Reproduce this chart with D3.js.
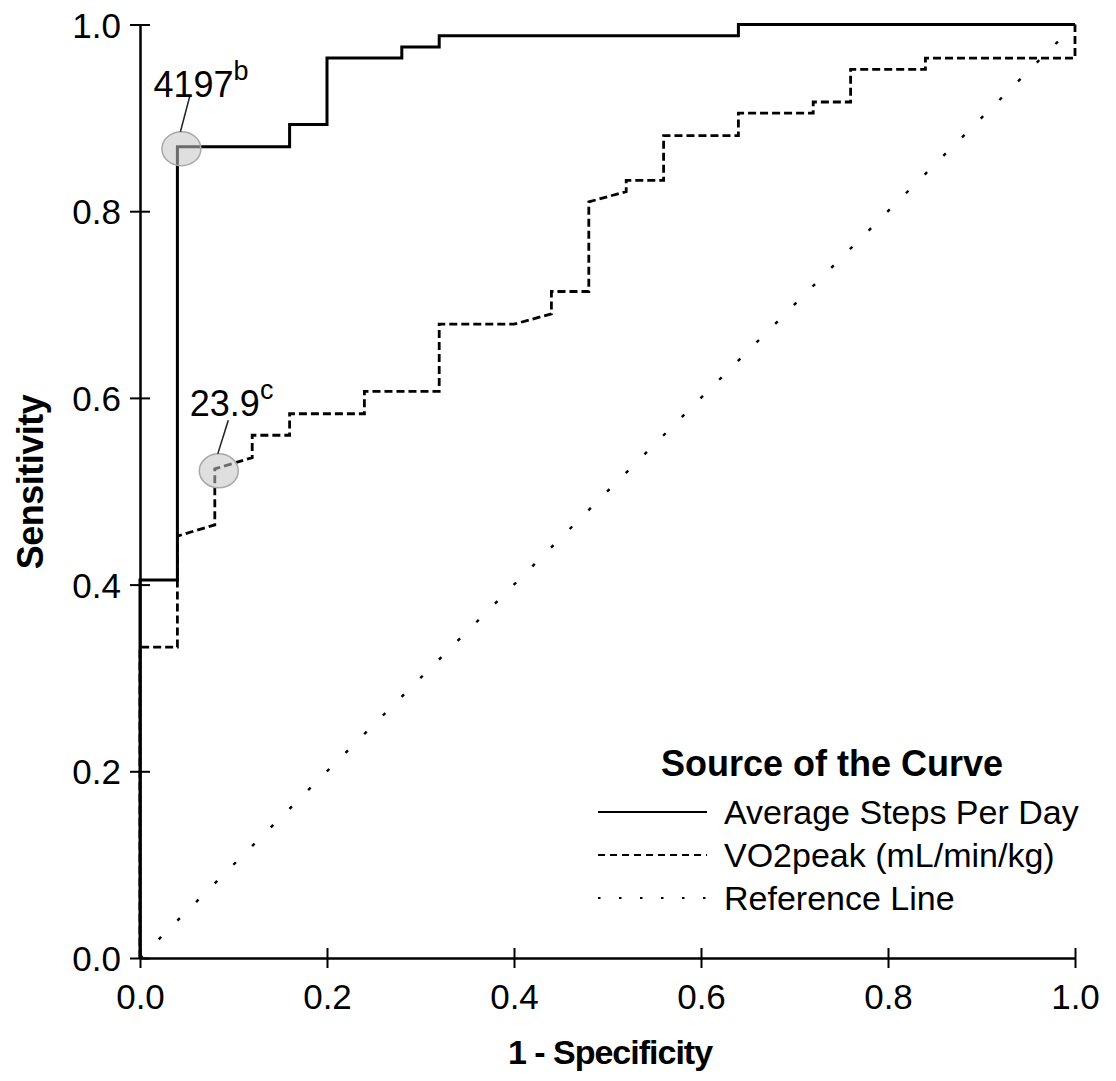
<!DOCTYPE html>
<html>
<head>
<meta charset="utf-8">
<script src="https://cdn.jsdelivr.net/npm/d3@7"></script>
<style>
  body { margin: 0; background: #fff; }
  text { font-family: "Liberation Sans", Arial, sans-serif; fill: #000; }
</style>
</head>
<body>
<svg id="canvas" width="1116" height="1081"></svg>
<script>
// ROC points (x = 1 - specificity, y = sensitivity)
var stepsFpr = [0, 0, 0.04, 0.04, 0.16, 0.16, 0.20, 0.20, 0.28, 0.28, 0.32, 0.32, 0.64, 0.64, 1.0]
var stepsTpr = [0, 0.405, 0.405, 0.869, 0.869, 0.893, 0.893, 0.964, 0.964, 0.976, 0.976, 0.988, 0.988, 1.0, 1.0]

var vo2Fpr = [0, 0, 0.04, 0.04, 0.08, 0.08, 0.12, 0.12, 0.16, 0.16, 0.24, 0.24, 0.32, 0.32, 0.40, 0.44, 0.44,
              0.48, 0.48, 0.52, 0.52, 0.56, 0.56, 0.64, 0.64, 0.72, 0.72, 0.76, 0.76, 0.84, 0.84, 1.0, 1.0]
var vo2Tpr = [0, 0.333, 0.333, 0.452, 0.464, 0.524, 0.536, 0.560, 0.560, 0.583, 0.583, 0.607, 0.607, 0.679, 0.679, 0.690, 0.714,
              0.714, 0.810, 0.821, 0.833, 0.833, 0.881, 0.881, 0.905, 0.905, 0.917, 0.917, 0.952, 0.952, 0.964, 0.964, 1.0]

var refLine = [0, 1]

var tickValues = [0, 0.2, 0.4, 0.6, 0.8, 1.0]

// cut-off labels
var cutoffs = [
    {fpr: 0.04, tpr: 0.869, label: '4197', sup: 'b'},
    {fpr: 0.08, tpr: 0.524, label: '23.9', sup: 'c'}
]

var legendNames = ['Average Steps Per Day', 'VO2peak (mL/min/kg)', 'Reference Line']

window.onload = function()
{
    MakeChart();
}

function MakeChart(){
    var svg = d3.select('#canvas');
    var left = 140, right = 1075, top = 24.5, bottom = 958;

    var x = d3.scaleLinear().domain([0, 1]).range([left, right]);
    var y = d3.scaleLinear().domain([0, 1]).range([bottom, top]);

    // axes
    var xAxis = svg.append('g')
        .attr('transform', 'translate(0,' + bottom + ')')
        .call(d3.axisBottom(x).tickValues(tickValues).tickFormat(d3.format('.1f')).tickSizeInner(10).tickSizeOuter(0).tickPadding(16));
    var yAxis = svg.append('g')
        .attr('transform', 'translate(' + left + ',0)')
        .call(d3.axisLeft(y).tickValues(tickValues).tickFormat(d3.format('.1f')).tickSizeInner(10).tickSizeOuter(0).tickPadding(9));

    [xAxis, yAxis].forEach(function(ax){
        ax.select('.domain').attr('stroke', '#000').attr('stroke-width', 2.5);
        ax.selectAll('.tick line').attr('stroke', '#000').attr('stroke-width', 2);
        ax.selectAll('.tick text').style('font-size', '35px').attr('fill', '#000');
    });
    // ticks cross the axis line
    xAxis.selectAll('.tick line').attr('y1', -10);
    yAxis.selectAll('.tick line').attr('x1', 10);
    xAxis.selectAll('.tick text').attr('dy', '0.71em');
    yAxis.selectAll('.tick text').attr('dy', '0.36em');

    svg.append('text')
        .attr('x', 610).attr('y', 1064)
        .attr('text-anchor', 'middle')
        .style('font-size', '34px').style('font-weight', 'bold').style('letter-spacing', '-1px')
        .text('1 - Specificity');

    svg.append('text')
        .attr('transform', 'translate(43,482) rotate(-90)')
        .attr('text-anchor', 'middle')
        .style('font-size', '36px').style('font-weight', 'bold').style('letter-spacing', '-0.5px')
        .text('Sensitivity');

    var line = d3.line().x(d => x(d[0])).y(d => y(d[1]));

    // reference line
    svg.append('path')
        .datum(refLine.map(v => [v, v]))
        .attr('d', line)
        .attr('fill', 'none').attr('stroke', '#000').attr('stroke-width', 2.4)
        .attr('stroke-dasharray', '3.5,22.9');

    // VO2peak curve
    svg.append('path')
        .datum(d3.zip(vo2Fpr, vo2Tpr))
        .attr('d', line)
        .attr('fill', 'none').attr('stroke', '#000').attr('stroke-width', 2.8)
        .attr('stroke-dasharray', '8,4');

    // steps curve
    svg.append('path')
        .datum(d3.zip(stepsFpr, stepsTpr))
        .attr('d', line)
        .attr('fill', 'none').attr('stroke', '#000').attr('stroke-width', 3);

    // cut-off markers
    var lead = [[9.5, -36], [10.5, -33.5]];
    var labelPos = [[-28, -52], [-29, -55]];
    cutoffs.forEach(function(c, i){
        var cx = x(c.fpr) + 4, cy = y(c.tpr) + 2;
        svg.append('ellipse')
            .attr('cx', cx).attr('cy', cy).attr('rx', 19.5).attr('ry', 17)
            .attr('fill', '#c4c4c4').attr('fill-opacity', 0.55)
            .attr('stroke', '#a8a8a8').attr('stroke-width', 1.5);
        svg.append('line')
            .attr('x1', cx - 1).attr('y1', cy - 17)
            .attr('x2', cx - 1 + lead[i][0]).attr('y2', cy - 17 + lead[i][1])
            .attr('stroke', '#222').attr('stroke-width', 1.5);
        var t = svg.append('text')
            .attr('x', cx + labelPos[i][0]).attr('y', cy + labelPos[i][1])
            .style('font-size', '36px');
        t.append('tspan').text(c.label);
        t.append('tspan').attr('dy', -17).style('font-size', '27px').text(c.sup);
    });

    // legend
    var lg = svg.append('g');
    lg.append('text')
        .attr('x', 832).attr('y', 776)
        .attr('text-anchor', 'middle')
        .style('font-size', '36px').style('font-weight', 'bold')
        .text('Source of the Curve');
    var dashes = [null, '7,5', '2.5,18.5'];
    legendNames.forEach(function(name, i){
        var ly = 812 + i * 43;
        lg.append('line')
            .attr('x1', 598).attr('x2', 707).attr('y1', ly).attr('y2', ly)
            .attr('stroke', '#000').attr('stroke-width', 2.2)
            .attr('stroke-dasharray', dashes[i]);
        lg.append('text')
            .attr('x', 724).attr('y', ly + 12)
            .style('font-size', '34px')
            .text(name);
    });
}
</script>
</body>
</html>
